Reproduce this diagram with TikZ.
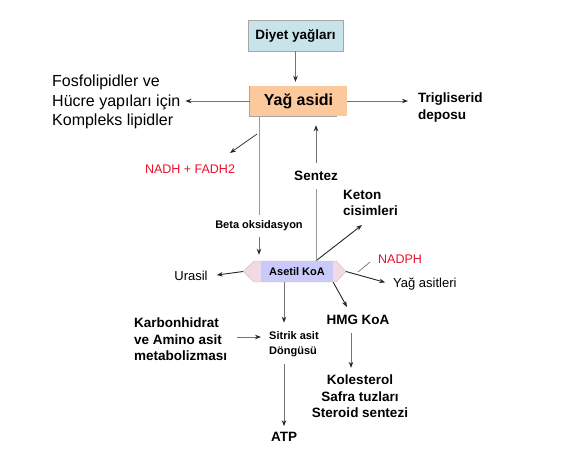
\documentclass[tikz,border=0pt]{standalone}
\usepackage{fontspec}
\setmainfont{Liberation Sans}
\usetikzlibrary{arrows.meta,positioning,calc}

\definecolor{diyetmavi}{HTML}{C8E4EA}
\definecolor{yagturuncu}{HTML}{FCC99C}
\definecolor{koalila}{HTML}{C9C9FA}
\definecolor{koapembe}{HTML}{F2D9E6}
\definecolor{kirmizi}{HTML}{E8102A}

\begin{document}
\begin{tikzpicture}[x=1pt, y=-1pt,
    kutu/.style={inner sep=0pt, font=\fontsize{13.5}{16}\selectfont\bfseries},
    buyuk/.style={font=\fontsize{13.5}{16.5}\selectfont\bfseries, align=left, inner sep=2pt},
    kucuk/.style={font=\fontsize{11}{15}\selectfont\bfseries, align=left, inner sep=2pt},
    etiket/.style={font=\fontsize{13}{16}\selectfont, inner sep=2pt},
    kirmizietiket/.style={etiket, text=kirmizi},
    ok/.style={-{Stealth[length=6pt,width=4.5pt,color=black!85]}, line width=0.9pt, color=black!55},
    koyuok/.style={-{Stealth[length=6pt,width=4.5pt]}, line width=0.9pt, color=black!85},
    cizgi/.style={line width=0.9pt, color=black!40}]

    \useasboundingbox (0,0) rectangle (565,459);

    % Kutular
    \node[kutu, fill=diyetmavi, draw=gray!70, minimum width=95pt, minimum height=31pt] (diyet) at (295.5,35.5) {Diyet yağları};
    \node[kutu, fill=yagturuncu, minimum width=97pt, minimum height=30pt, font=\fontsize{16}{19}\selectfont\bfseries] (yag) at (298.5,101) {Yağ asidi};
    \draw[gray!70, line width=0.8pt] (yag.north west) -- (yag.south west) -- ([xshift=-10pt]yag.south east);

    % Asetil KoA
    \coordinate (koaL) at (243,271.5);
    \coordinate (koaR) at (346,271.5);
    \fill[koapembe, draw=gray!50] (koaL) -- (254,261) -- (336,261) -- (koaR) -- (336,282) -- (254,282) -- cycle;
    \node[fill=koalila, minimum width=72pt, minimum height=21pt, inner sep=0pt, font=\fontsize{11}{13}\selectfont\bfseries] (acoa) at (297,271.5) {Asetil KoA};

    % Yazilar
    \node[anchor=west, align=left, inner sep=2pt, font=\fontsize{16}{19.5}\selectfont] (fosfo) at (50,102) {Fosfolipidler ve\\Hücre yapıları için\\Kompleks lipidler};
    \node[buyuk, anchor=west] (trig) at (416,107.5) {Trigliserid\\deposu};
    \node[kirmizietiket, font=\fontsize{12.5}{15}\selectfont] (nadh) at (190,169) {NADH + FADH2};
    \node[kucuk, inner ysep=6pt] (beta) at (259,226) {Beta oksidasyon};
    \node[buyuk, inner ysep=8pt] (sentez) at (316,176) {Sentez};
    \node[buyuk, anchor=west] (keton) at (341,203) {Keton\\cisimleri};
    \node[etiket] (urasil) at (191,276) {Urasil};
    \node[kirmizietiket, anchor=west, font=\fontsize{12.5}{15}\selectfont] (nadph) at (376,259) {NADPH};
    \node[etiket, anchor=west] (yagasit) at (391,284) {Yağ asitleri};
    \node[buyuk] (hmg) at (358,320) {HMG KoA};
    \node[buyuk, align=center] (kolest) at (360,396.5) {Kolesterol\\Safra tuzları\\Steroid sentezi};
    \node[kucuk, anchor=west] (sitrik) at (267,344.5) {Sitrik asit\\Döngüsü};
    \node[buyuk, anchor=west] (karbon) at (132,339.5) {Karbonhidrat\\ve Amino asit\\metabolizması};
    \node[buyuk, inner ysep=6pt] (atp) at (284,437) {ATP};

    % Serbest uclar
    \coordinate (nadh1) at (257,134);
    \coordinate (nadh2) at (230,153);
    \coordinate (koaust) at (sentez.south |- acoa.north);
    \coordinate (keton2) at (362,225);
    \coordinate (nadph1) at (358,272);
    \coordinate (nadph2) at (370,262);
    \coordinate (hmg2) at (347,307);
    \coordinate (hmgalt) at (351,333);
    \coordinate (karbonok) at (237,337);

    % Oklar
    \path[ok]
        (diyet.south) edge[shorten >=4pt] (diyet.south |- yag.north)
        (yag.west) edge[shorten >=3pt] (yag.west -| fosfo.east)
        (yag.east) edge[shorten >=8pt] (yag.east -| trig.west)
        (beta.south) edge[shorten >=6pt] (beta.south |- acoa.north)
        (sentez.north) edge[shorten >=9pt] (sentez.north |- yag.south)
        (acoa.south -| atp) edge[shorten >=7pt] (sitrik.north -| atp)
        (sitrik.south -| atp) edge[shorten <=5pt] (atp.north)
        (hmgalt) edge[shorten >=5pt] (hmgalt |- kolest.north)
        (karbonok) edge[shorten >=6pt] (karbonok -| sitrik.west);

    \path[koyuok]
        (nadh1) edge[line width=0.7pt] (nadh2)
        (koaust) edge (keton2)
        (koaL) edge[shorten >=7pt] (urasil.east)
        (koaR) edge[shorten >=6pt] (yagasit.west)
        (acoa.south east) edge (hmg2);

    \path[cizgi]
        (yag.south -| beta) edge (beta.north)
        (sentez.south) edge (koaust)
        (nadph1) edge[line width=0.6pt, draw=black!60] (nadph2);

\end{tikzpicture}
\end{document}
